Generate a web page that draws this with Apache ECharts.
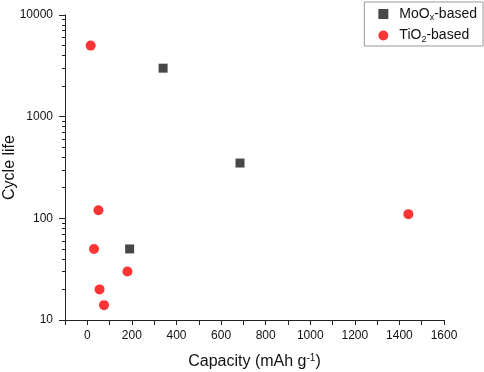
<!DOCTYPE html>
<html>
<head>
<meta charset="utf-8">
<script src="https://cdn.jsdelivr.net/npm/echarts@6/dist/echarts.min.js"></script>
<style>
  html, body { margin: 0; padding: 0; background: #fff; }
  #chart { width: 484px; height: 372px; }
</style>
</head>
<body>
<div id="chart"></div>
<script>
// capacity (mAh g-1), cycle life
var moox = [[190, 50], [340, 3000], [685, 350]];
var tio2 = [[15, 5000], [50, 120], [30, 50], [180, 30], [55, 20], [75, 14], [1440, 110]];

var xLabels = [0, 200, 400, 600, 800, 1000, 1200, 1400, 1600];
var xTicks = [-100, 0, 100, 200, 300, 400, 500, 600, 700, 800, 900, 1000, 1100, 1200, 1300, 1400, 1500, 1600];
var yLabels = [10, 100, 1000, 10000];
var yMinor = [20, 30, 40, 50, 60, 70, 80, 90, 200, 300, 400, 500, 600, 700, 800, 900,
  2000, 3000, 4000, 5000, 6000, 7000, 8000, 9000];

var font = "'Liberation Sans', Arial, sans-serif";
var myChart = echarts.init(document.getElementById("chart"));

function plain(v) {
  return String(Math.round(v));
}

var option = {
  backgroundColor: "#fff",
  animation: false,
  textStyle: { fontFamily: font },
  grid: { left: 65, right: 40, top: 15, bottom: 52, containLabel: false, outerBoundsMode: "none" },
  legend: {
    orient: "vertical",
    right: 1,
    top: 2,
    itemWidth: 10,
    itemHeight: 10,
    itemGap: 6,
    padding: [5, 6, 2, 14],
    borderColor: "#999",
    borderWidth: 1,
    data: ["MoOx", "TiO2"],
    formatter: function (name) {
      return name === "MoOx" ? "MoO{sub|x}-based" : "TiO{sub|2}-based";
    },
    textStyle: {
      fontFamily: font,
      fontSize: 14,
      color: "#111",
      padding: [0, 0, 0, 6],
      rich: {
        sub: { fontSize: 9, verticalAlign: "bottom", padding: [8, 0, 0, 0] }
      }
    }
  },
  xAxis: {
    type: "value",
    min: -100,
    max: 1600,
    name: "Capacity (mAh g{sup|-1})",
    nameLocation: "middle",
    nameGap: 33,
    nameMoveOverlap: false,
    nameTextStyle: {
      fontFamily: font,
      fontSize: 16,
      color: "#111",
      rich: {
        sup: { fontSize: 10, verticalAlign: "top", padding: [0, 0, 8, 0] }
      }
    },
    splitLine: { show: false },
    axisLine: { onZero: false, lineStyle: { color: "#222", width: 1 } },
    axisTick: { customValues: xTicks, length: 5, lineStyle: { color: "#222" } },
    axisLabel: { customValues: xLabels, formatter: plain, fontSize: 12, color: "#111", margin: 10 }
  },
  yAxis: [
    {
      type: "log",
      logBase: 10,
      min: 10,
      max: 10000,
      name: "Cycle life",
      nameLocation: "middle",
      nameGap: 47,
      nameMoveOverlap: false,
      nameTextStyle: { fontFamily: font, fontSize: 16, color: "#111" },
      splitLine: { show: false },
      axisLine: { onZero: false, lineStyle: { color: "#222", width: 1 } },
      axisTick: { customValues: yLabels, length: 6, lineStyle: { color: "#222" } },
      axisLabel: { customValues: yLabels, formatter: plain, fontSize: 12, color: "#111", margin: 12 }
    },
    {
      type: "log",
      logBase: 10,
      min: 10,
      max: 10000,
      position: "left",
      splitLine: { show: false },
      axisLine: { show: false, onZero: false },
      axisTick: { customValues: yMinor, length: 3, lineStyle: { color: "#222" } },
      axisLabel: { show: false }
    }
  ],
  series: [
    {
      name: "MoOx",
      type: "scatter",
      symbol: "rect",
      symbolSize: 9,
      itemStyle: { color: "#474747", opacity: 1 },
      data: moox
    },
    {
      name: "TiO2",
      type: "scatter",
      symbol: "circle",
      symbolSize: 10,
      itemStyle: { color: "#ff3535", opacity: 1 },
      data: tio2
    }
  ]
};
myChart.setOption(option);
</script>
</body>
</html>
